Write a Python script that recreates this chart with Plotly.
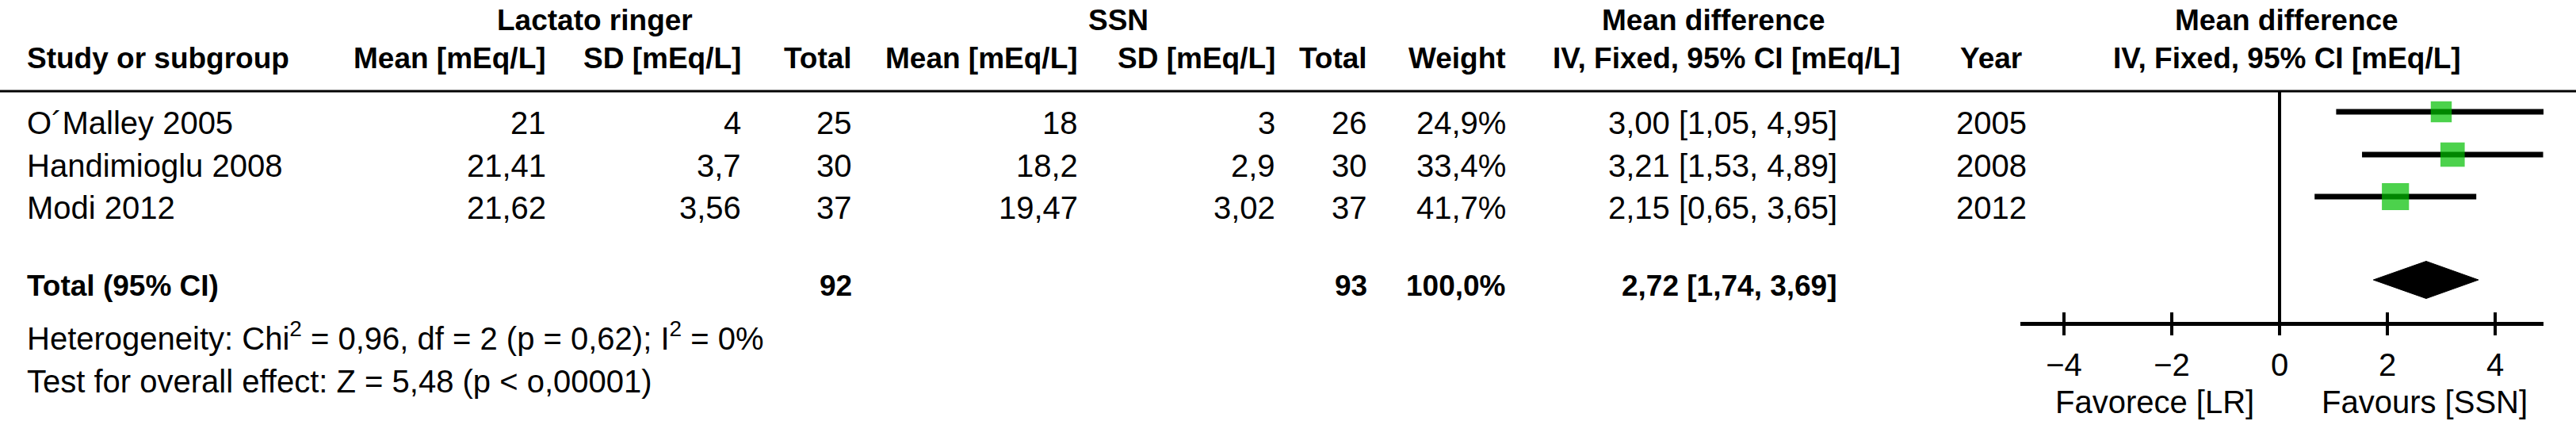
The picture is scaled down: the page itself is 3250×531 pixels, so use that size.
import plotly.graph_objects as go

# study rows
studies = ["O\u00b4Malley 2005", "Handimioglu 2008", "Modi 2012"]
lr_mean = [21, 21.41, 21.62]
lr_sd = [4, 3.7, 3.56]
lr_n = [25, 30, 37]
ssn_mean = [18, 18.2, 19.47]
ssn_sd = [3, 2.9, 3.02]
ssn_n = [26, 30, 37]
weight = [24.9, 33.4, 41.7]
md = [3.00, 3.21, 2.15]
ci_low = [1.05, 1.53, 0.65]
ci_high = [4.95, 4.89, 3.65]
years = [2005, 2008, 2012]

# pooled result
total_lr_n = 92
total_ssn_n = 93
total_weight = 100.0
total_md = 2.72
total_low = 1.74
total_high = 3.69

heterogeneity = "Heterogeneity: Chi<sup>2</sup> = 0,96, df = 2 (p = 0,62); I<sup>2</sup> = 0%"
overall = "Test for overall effect: Z = 5,48 (p &lt; o,00001)"

tick_vals = [-4, -2, 0, 2, 4]
left_label = "Favorece [LR]"
right_label = "Favours [SSN]"

# layout (pixels of the 3250x531 page)
W, H = 3250, 531
FONT = "Liberation Sans"
REG, BOLD = 40, 37
head1_y, head2_y = 25, 73
row_y = [155, 209, 262]
mark_shift = -14
total_y, diamond_y, diamond_h = 360, 353, 23.5
het_y, test_y = 424, 481
line_y, axis_y = 115, 408
zero_px, px_per_unit = 2876, 68
axis_left, axis_right = 2549, 3209


def fmt(v):
    return f"{v:g}".replace(".", ",")


def fmt2(v):
    return f"{v:.2f}".replace(".", ",")


annotations = []


def txt(s, x, y, anchor, bold=False):
    annotations.append(dict(
        text=f"<b>{s}</b>" if bold else s,
        x=x / W, xref="paper", y=y, yref="y",
        xanchor=anchor, yanchor="middle", showarrow=False,
        font=dict(family=FONT, size=BOLD if bold else REG, color="black"),
    ))


# headers
txt("Lactato ringer", 750, head1_y, "center", True)
txt("SSN", 1411, head1_y, "center", True)
txt("Mean difference", 2162, head1_y, "center", True)
txt("Mean difference", 2885, head1_y, "center", True)
txt("Study or subgroup", 32, head2_y, "left", True)
for label, x in [("Mean [mEq/L]", 691), ("SD [mEq/L]", 937), ("Total", 1077),
                 ("Mean [mEq/L]", 1362), ("SD [mEq/L]", 1611), ("Total", 1727),
                 ("Weight", 1902)]:
    txt(label, x, head2_y, "right", True)
txt("IV, Fixed, 95% CI [mEq/L]", 2178, head2_y, "center", True)
txt("Year", 2512, head2_y, "center", True)
txt("IV, Fixed, 95% CI [mEq/L]", 2885, head2_y, "center", True)

# study rows
for i, y in enumerate(row_y):
    txt(studies[i], 32, y, "left")
    txt(fmt(lr_mean[i]), 691, y, "right")
    txt(fmt(lr_sd[i]), 937, y, "right")
    txt(str(lr_n[i]), 1077, y, "right")
    txt(fmt(ssn_mean[i]), 1362, y, "right")
    txt(fmt(ssn_sd[i]), 1611, y, "right")
    txt(str(ssn_n[i]), 1727, y, "right")
    txt(f"{weight[i]:.1f}%".replace(".", ","), 1902, y, "right")
    txt(f"{fmt2(md[i])} [{fmt2(ci_low[i])}, {fmt2(ci_high[i])}]", 2320, y, "right")
    txt(str(years[i]), 2512, y, "center")

# total row
txt("Total (95% CI)", 32, total_y, "left", True)
txt(str(total_lr_n), 1077, total_y, "right", True)
txt(str(total_ssn_n), 1727, total_y, "right", True)
txt(f"{total_weight:.1f}%".replace(".", ","), 1902, total_y, "right", True)
txt(f"{fmt2(total_md)} [{fmt2(total_low)}, {fmt2(total_high)}]", 2320, total_y, "right", True)
txt(heterogeneity, 32, het_y, "left")
txt(overall, 32, test_y, "left")

# favours labels under the axis
txt(left_label, 2718, 507, "center")
txt(right_label, 3059, 507, "center")

fig = go.Figure()

mark_y = [y + mark_shift for y in row_y]

# confidence interval lines
ci_x, ci_y = [], []
for lo, hi, y in zip(ci_low, ci_high, mark_y):
    ci_x += [lo, hi, None]
    ci_y += [y, y, None]
fig.add_trace(go.Scatter(x=ci_x, y=ci_y, mode="lines",
                         line=dict(color="black", width=7), hoverinfo="skip"))

# weighted squares
fig.add_trace(go.Scatter(
    x=md, y=mark_y, mode="markers",
    marker=dict(symbol="square", color="#00BF00",
                size=[5.3 * w ** 0.5 for w in weight], line=dict(width=0)),
    text=studies, hoverinfo="text"))

# pooled diamond
fig.add_trace(go.Scatter(
    x=[total_low, total_md, total_high, total_md, total_low],
    y=[diamond_y, diamond_y - diamond_h, diamond_y, diamond_y + diamond_h, diamond_y],
    mode="lines", fill="toself", fillcolor="black",
    line=dict(color="black", width=1), hoverinfo="skip"))

# tick marks crossing the axis line
tk_x, tk_y = [], []
for v in tick_vals:
    tk_x += [v, v, None]
    tk_y += [axis_y - 14, axis_y + 15, None]
fig.add_trace(go.Scatter(x=tk_x, y=tk_y, mode="lines",
                         line=dict(color="black", width=4), hoverinfo="skip"))

fig.update_layout(
    width=W, height=H,
    margin=dict(l=0, r=0, t=0, b=0),
    paper_bgcolor="white", plot_bgcolor="white",
    showlegend=False,
    annotations=annotations,
    xaxis=dict(
        domain=[axis_left / W, axis_right / W],
        range=[(axis_left - zero_px) / px_per_unit, (axis_right - zero_px) / px_per_unit],
        anchor="free", position=(H - axis_y) / H,
        showline=True, linecolor="black", linewidth=4.5,
        showgrid=False, zeroline=False,
        ticks="",
        tickvals=tick_vals,
        ticktext=[str(v).replace("-", "\u2212") for v in tick_vals],
        tickfont=dict(family=FONT, size=REG, color="black"),
        ticklabelstandoff=15,
    ),
    yaxis=dict(range=[H, 0], domain=[0, 1], visible=False),
    shapes=[
        dict(type="line", xref="paper", x0=0, x1=1, yref="y", y0=line_y, y1=line_y,
             line=dict(color="black", width=3)),
        dict(type="line", xref="x", x0=0, x1=0, yref="y", y0=line_y, y1=axis_y,
             line=dict(color="black", width=4)),
    ],
)

fig.write_html("out.html", config={"displayModeBar": False},
               post_script="document.body.style.margin = '0';")
